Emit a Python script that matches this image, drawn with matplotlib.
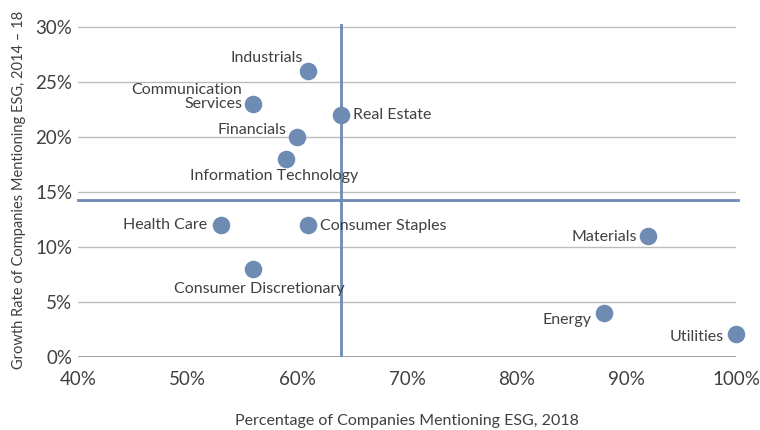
import numpy as np
import matplotlib
matplotlib.use('Agg')
import matplotlib.pyplot as plt
from matplotlib.ticker import PercentFormatter

# Input data
sectors = ['Industrials', 'Communication\nServices', 'Real Estate', 'Financials',
           'Information Technology', 'Health Care', 'Consumer Staples',
           'Consumer Discretionary', 'Materials', 'Energy', 'Utilities']
pct_mentioning = np.array([61, 56, 64, 60, 59, 53, 61, 56, 92, 88, 100])
growth_rate = np.array([26, 23, 22, 20, 18, 12, 12, 8, 11, 4, 2.1])

avg_pct = 64.0
avg_growth = 14.3

# label placement (offset in pixels, alignment)
label_pos = {
    'Industrials': ((-5, 6), 'right', 'bottom'),
    'Communication\nServices': ((-11, 7), 'right', 'center'),
    'Real Estate': ((12, 0), 'left', 'center'),
    'Financials': ((-11, 7), 'right', 'center'),
    'Information Technology': ((-12, -17), 'center', 'center'),
    'Health Care': ((-13, 0), 'right', 'center'),
    'Consumer Staples': ((12, -1), 'left', 'center'),
    'Consumer Discretionary': ((6, -20), 'center', 'center'),
    'Materials': ((-11, -1), 'right', 'center'),
    'Energy': ((-13, -7), 'right', 'center'),
    'Utilities': ((-12, -3), 'right', 'center'),
}

plt.rcParams['font.family'] = ['Lato', 'DejaVu Sans']
text_col = '#404040'
blue = '#6d8bb3'

fig = plt.figure(figsize=(7.6, 4.3), dpi=100)
ax = fig.add_axes([0.1026, 0.1698, 0.8658, 0.7751])

ax.set_xlim(40, 100)
ax.set_ylim(0, 30.3)
ax.set_xticks(np.arange(40, 101, 10))
ax.set_yticks(np.arange(0, 31, 5))
ax.xaxis.set_major_formatter(PercentFormatter(decimals=0))
ax.yaxis.set_major_formatter(PercentFormatter(decimals=0))
ax.grid(axis='y', color='#bdbdbd', linewidth=1)
ax.set_axisbelow(True)
for s in ax.spines.values():
    s.set_visible(False)
ax.axhline(0, color='#9a9a9a', linewidth=1.3, zorder=1)
ax.tick_params(length=0, labelsize=13.5, colors=text_col)
ax.tick_params(axis='x', pad=10)
ax.tick_params(axis='y', pad=4)

ax.axvline(avg_pct, color=blue, linewidth=2, zorder=2)
ax.axhline(avg_growth, color=blue, linewidth=2, zorder=2, xmax=1.003, clip_on=False)

ax.scatter(pct_mentioning, growth_rate, s=160, color=blue, zorder=3, clip_on=False,
           linewidths=0)

for name, x, y in zip(sectors, pct_mentioning, growth_rate):
    off, ha, va = label_pos[name]
    ax.annotate(name, (x, y), xytext=off, textcoords='offset pixels',
                ha=ha, va=va, fontsize=11.5, color=text_col, linespacing=0.95)

ax.set_xlabel('Percentage of Companies Mentioning ESG, 2018', fontsize=11.5,
              color=text_col, labelpad=19)
ax.set_ylabel('Growth Rate of Companies Mentioning ESG, 2014 – 18', fontsize=10.5,
              color=text_col, labelpad=7)

fig.savefig('out.png', dpi=100)
